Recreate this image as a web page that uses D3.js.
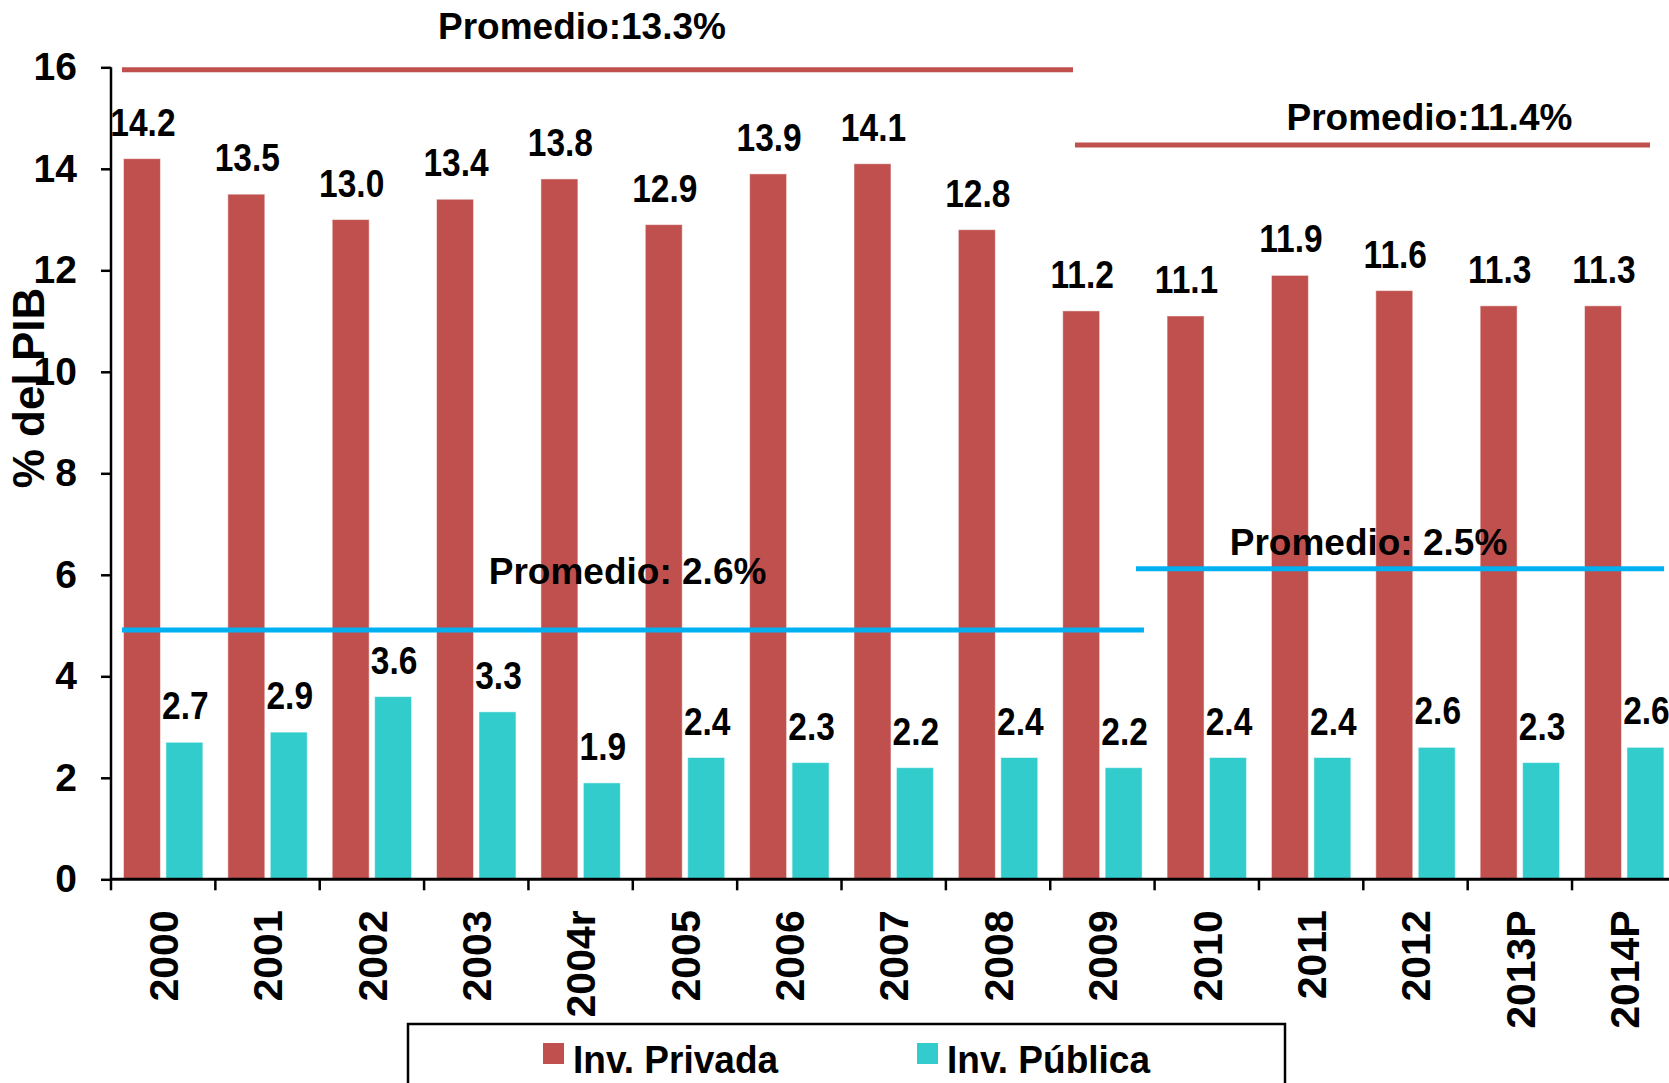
<!DOCTYPE html>
<html>
<head>
<meta charset="utf-8">
<script src="https://cdn.jsdelivr.net/npm/d3@7"></script>
<style>
  html, body { margin: 0; padding: 0; background: #ffffff; }
  svg { display: block; }
  text { font-family: "Liberation Sans", Arial, sans-serif; font-weight: bold; fill: #000; }
</style>
</head>
<body>
<script>
// ---- data ----
const categories = ["2000","2001","2002","2003","2004r","2005","2006","2007","2008","2009","2010","2011","2012","2013P","2014P"];
const invPrivada = [14.2,13.5,13.0,13.4,13.8,12.9,13.9,14.1,12.8,11.2,11.1,11.9,11.6,11.3,11.3];
const invPublica = [2.7,2.9,3.6,3.3,1.9,2.4,2.3,2.2,2.4,2.2,2.4,2.4,2.6,2.3,2.6];
const yTicks = [0,2,4,6,8,10,12,14,16];
const seriesNames = ["Inv. Privada","Inv. Pública"];
// reference ("Promedio") lines: level on value axis, extent in category units, label anchor
const avgLabels = ["Promedio:13.3%","Promedio:11.4%","Promedio: 2.6%","Promedio: 2.5%"];
const avgLevels = [15.95,14.47,4.91,6.12];
const avgStart = [0.105,9.237,0.105,9.822];
const avgEnd = [9.218,14.747,9.898,14.882];
const avgLabelPos = [4.513,12.634,4.95,12.05];
const avgLabelLevel = [16.55,14.76,5.82,6.39];
const avgSeries = [0,0,1,1];

// ---- styles ----
const colors = ["#C0504D","#33CCCC"];
const lineColors = ["#C0504D","#00B0F0"];

const W = 1669, H = 1083;
const svg = d3.select("body").append("svg").attr("width", W).attr("height", H);
svg.append("rect").attr("width", W).attr("height", H).attr("fill", "#fff");

const x0 = 111, step = 104.36;
const x = d3.scaleBand().domain(categories).range([x0, x0 + step * categories.length]).padding(0);
const xs = d3.scaleBand().domain([0,1]).range([0, x.bandwidth()]).paddingInner(0.129).paddingOuter(0.294);
const xu = d3.scaleLinear().domain([0, categories.length]).range([x0, x0 + step * categories.length]);
const y = d3.scaleLinear().domain([0,16]).range([879.3, 67.3]);

// bars
const data = categories.map((c,i) => ({c, vals:[invPrivada[i], invPublica[i]]}));
const g = svg.append("g");
const groups = g.selectAll("g.cat").data(data).join("g").attr("class","cat")
  .attr("transform", d => `translate(${x(d.c)},0)`);
groups.selectAll("rect").data(d => d.vals.map((v,k)=>({v,k}))).join("rect")
  .attr("x", d => xs(d.k)).attr("width", xs.bandwidth())
  .attr("y", d => y(d.v)).attr("height", d => y(0) - y(d.v))
  .attr("fill", d => colors[d.k])
  .attr("stroke", "rgba(255,255,255,0.5)").attr("stroke-width", 1);

// average lines
const avg = avgLabels.map((l,i)=>({l, v:avgLevels[i], a:avgStart[i], b:avgEnd[i], lp:avgLabelPos[i], lv:avgLabelLevel[i], s:avgSeries[i]}));
svg.append("g").selectAll("line").data(avg).join("line")
  .attr("x1", d => xu(d.a)).attr("x2", d => xu(d.b))
  .attr("y1", d => y(d.v)).attr("y2", d => y(d.v))
  .attr("stroke", d => lineColors[d.s]).attr("stroke-width", 5);
svg.append("g").selectAll("text").data(avg).join("text")
  .attr("x", d => xu(d.lp)).attr("y", d => y(d.lv))
  .attr("text-anchor","middle").attr("font-size", 37)
  .text(d => d.l);

// data labels
groups.selectAll("text").data(d => d.vals.map((v,k)=>({v,k}))).join("text")
  .attr("transform", d => `translate(${xs(d.k) + xs.bandwidth()/2 + 1},${y(d.v) - 23}) scale(0.86,1)`)
  .attr("text-anchor","middle").attr("font-size", 39)
  .text(d => d3.format(".1f")(d.v));

// y axis
const yAxis = svg.append("g").attr("transform", `translate(${x0},0)`)
  .call(d3.axisLeft(y).tickValues(yTicks).tickSize(10).tickPadding(24).tickFormat(d3.format("d")));
yAxis.select(".domain").attr("stroke","#000").attr("stroke-width",2.5).attr("d", `M0,${y(16)}V${y(0)}`);
yAxis.selectAll(".tick line").attr("stroke","#000").attr("stroke-width",2.5);
yAxis.selectAll(".tick text").attr("font-size",39).attr("font-family",'"Liberation Sans", Arial, sans-serif').attr("font-weight","bold").attr("fill","#000");

// x axis
const xAxis = svg.append("g").attr("transform", `translate(0,${y(0)})`)
  .call(d3.axisBottom(x).tickSize(0).tickPadding(0));
xAxis.select(".domain").attr("stroke","#000").attr("stroke-width",3).attr("d", `M${x0},0H${W}`);
xAxis.selectAll(".tick text")
  .attr("font-size",41).attr("font-family",'"Liberation Sans", Arial, sans-serif').attr("font-weight","bold").attr("fill","#000")
  .attr("text-anchor","end").attr("transform","rotate(-90)")
  .attr("x",-31).attr("y",0).attr("dy","0.36em");
// boundary ticks
xAxis.append("g").selectAll("line").data(categories).join("line")
  .attr("x1", d => x(d)).attr("x2", d => x(d)).attr("y1",0).attr("y2",11)
  .attr("stroke","#000").attr("stroke-width",2.5);

// y title
svg.append("text").attr("transform","translate(43.5,388) rotate(-90)")
  .attr("text-anchor","middle").attr("font-size",44).text("% del PIB");

// legend
const lg = svg.append("g");
lg.append("rect").attr("x",408).attr("y",1024).attr("width",877).attr("height",80)
  .attr("fill","#fff").attr("stroke","#000").attr("stroke-width",2.5);
const legX = [543, 917];
const items = lg.selectAll("g.item").data(seriesNames).join("g").attr("class","item")
  .attr("transform",(d,i)=>`translate(${legX[i]},1043)`);
items.append("rect").attr("width",21).attr("height",21).attr("fill",(d,i)=>colors[i]);
items.append("text").attr("transform","translate(30,30) scale(0.95,1)").attr("font-size",39).text(d=>d);
</script>
</body>
</html>
